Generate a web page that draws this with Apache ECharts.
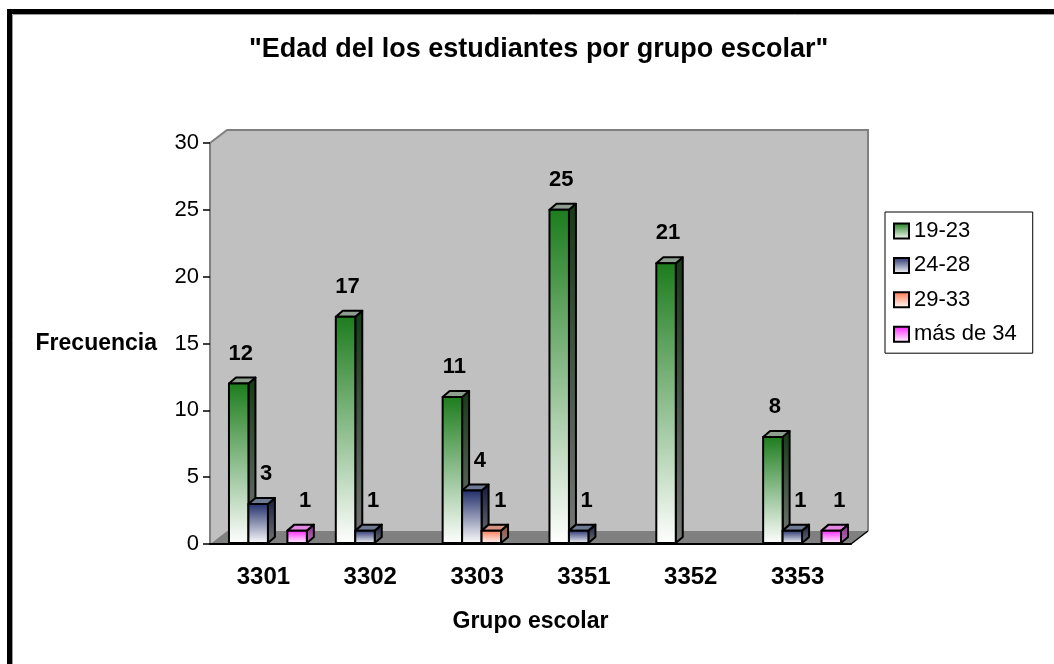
<!DOCTYPE html>
<html>
<head>
<meta charset="utf-8">
<script src="https://cdn.jsdelivr.net/npm/echarts@6/dist/echarts.min.js"></script>
<style>
  html, body { margin: 0; padding: 0; background: #ffffff; }
  #chart { width: 1054px; height: 664px; }
</style>
</head>
<body>
<div id="chart"></div>
<script>
// Chart text and data
const titleText = '"Edad del los estudiantes por grupo escolar"';
const yAxisTitle = 'Frecuencia';
const xAxisTitle = 'Grupo escolar';
const categories = ['3301', '3302', '3303', '3351', '3352', '3353'];
const seriesNames = ['19-23', '24-28', '29-33', 'más de 34'];
const ages19to23 = [12, 17, 11, 25, 21, 8];
const ages24to28 = [3, 1, 4, 1, 0, 1];
const ages29to33 = [0, 0, 1, 0, 0, 0];
const ages34plus = [1, 0, 0, 0, 0, 1];
const yMin = 0, yMax = 30, yStep = 5;

const FONT = '"Liberation Sans", Arial, Helvetica, sans-serif';
const G = echarts.graphic;

// Column look: front face gradient, dark side face, light top face
const palette = [
  { front: '#1c7c1c', side: '#163a16', sideEnd: '#767676', top: '#8f9f8f', dx: 2 },
  { front: '#1f2c68', side: '#131a3c', sideEnd: '#767676', top: '#6e7a94', dx: 8 },
  { front: '#ff7650', side: '#9a4a32', sideEnd: '#8a8a8a', top: '#d49484', dx: 9 },
  { front: '#ff1cff', side: '#8c248c', sideEnd: '#b080b0', top: '#e488e4', dx: 8 }
];
const seriesValues = [ages19to23, ages24to28, ages29to33, ages34plus];

// Depth of each column and of the plot box
const BAR_DX = 7, BAR_DY = 6;
const BOX_DX = 17, BOX_DY = 13;
const LEAD = 19 / 107, SLOT = 19.5 / 107;

function frontGradient(c) {
  return new G.LinearGradient(0, 0, 0, 1, [
    { offset: 0, color: c }, { offset: 1, color: '#ffffff' }
  ]);
}

function barRenderer(si) {
  const p = palette[si];
  return function (params, api) {
    const cat = api.value(0);
    const val = api.value(1);
    if (!val) return null;
    const bw = api.size([1, 0])[0];
    const base = api.coord([cat, 0]);
    const tip = api.coord([cat, val]);
    const w = bw * SLOT;
    const x0 = base[0] - bw / 2 + bw * LEAD + si * w;
    const x1 = x0 + w;
    const yB = base[1] - 1;
    const yT = tip[1];
    const stroke = { stroke: '#000', lineWidth: 2, lineJoin: 'round' };
    return {
      type: 'group',
      children: [
        {
          type: 'polygon',
          shape: { points: [[x1, yT], [x1 + BAR_DX, yT - BAR_DY], [x1 + BAR_DX, yB - BAR_DY], [x1, yB]] },
          style: Object.assign({
            fill: new G.LinearGradient(0, 0, 0, 1, [
              { offset: 0, color: p.side }, { offset: 1, color: p.sideEnd }
            ])
          }, stroke)
        },
        {
          type: 'polygon',
          shape: { points: [[x0, yT], [x0 + BAR_DX, yT - BAR_DY], [x1 + BAR_DX, yT - BAR_DY], [x1, yT]] },
          style: Object.assign({ fill: p.top }, stroke)
        },
        {
          type: 'rect',
          shape: { x: x0, y: yT, width: w, height: yB - yT },
          style: Object.assign({ fill: frontGradient(p.front) }, stroke)
        },
        {
          type: 'text',
          style: {
            text: String(val),
            x: (x0 + x1) / 2 + p.dx,
            y: yT - 30,
            align: 'center',
            verticalAlign: 'middle',
            font: 'bold 22px ' + FONT,
            fill: '#000'
          }
        }
      ]
    };
  };
}

// Walls and floor of the plot box
function boxRenderer(params, api) {
  const bw = api.size([1, 0])[0];
  const first = api.coord([0, yMin]);
  const last = api.coord([categories.length - 1, yMin]);
  const T = api.coord([0, yMax])[1];
  const L = first[0] - bw / 2, R = last[0] + bw / 2, B = first[1];
  return {
    type: 'group',
    children: [
      { type: 'polygon', shape: { points: [[L, B], [L, T], [L + BOX_DX, T - BOX_DY], [L + BOX_DX, B - BOX_DY]] },
        style: { fill: '#c0c0c0' } },
      { type: 'rect', shape: { x: L + BOX_DX, y: T - BOX_DY, width: R - L, height: B - T },
        style: { fill: '#c0c0c0' } },
      { type: 'polygon', shape: { points: [[L, B], [L + BOX_DX, B - BOX_DY], [R + BOX_DX, B - BOX_DY], [R, B]] },
        style: { fill: '#808080' } },
      { type: 'polyline', shape: { points: [[L, T], [L + BOX_DX, T - BOX_DY], [R + BOX_DX, T - BOX_DY], [R + BOX_DX, B - BOX_DY]] },
        style: { fill: null, stroke: '#808080', lineWidth: 2 } },
      { type: 'line', shape: { x1: R + BOX_DX, y1: B - BOX_DY, x2: R, y2: B },
        style: { stroke: '#000', lineWidth: 1.5 } }
    ]
  };
}

const chart = echarts.init(document.getElementById('chart'), null, { renderer: 'canvas' });

const series = [{
  type: 'custom',
  name: 'box',
  silent: true,
  z: 1,
  data: [[0, 0]],
  encode: { x: 0, y: 1 },
  renderItem: boxRenderer
}];
seriesValues.forEach(function (vals, si) {
  series.push({
    type: 'custom',
    name: seriesNames[si],
    z: 2 + si,
    itemStyle: { color: frontGradient(palette[si].front), borderColor: '#000', borderWidth: 2 },
    data: vals.map(function (v, i) { return [i, v]; }),
    encode: { x: 0, y: 1 },
    renderItem: barRenderer(si)
  });
});

chart.setOption({
  animation: false,
  backgroundColor: '#ffffff',
  textStyle: { fontFamily: FONT },
  title: {
    text: titleText,
    left: 249,
    top: 36,
    padding: 0,
    textStyle: { fontFamily: FONT, fontSize: 27, fontWeight: 'bold', color: '#000' }
  },
  legend: {
    orient: 'vertical',
    left: 885,
    top: 212,
    padding: [8, 16, 8, 8],
    backgroundColor: '#ffffff',
    borderColor: '#000',
    borderWidth: 1,
    itemWidth: 15,
    itemHeight: 15,
    itemGap: 12.4,
    icon: 'rect',
    selectedMode: false,
    textStyle: { fontFamily: FONT, fontSize: 22, lineHeight: 22, color: '#000' },
    data: seriesNames.map(function (n, si) {
      return { name: n, itemStyle: { color: frontGradient(palette[si].front), borderColor: '#000', borderWidth: 2 } };
    })
  },
  grid: { left: 210, right: 203, top: 143, bottom: 120, containLabel: false },
  xAxis: {
    type: 'category',
    data: categories,
    z: 10,
    name: xAxisTitle,
    nameLocation: 'middle',
    nameGap: 66,
    nameTextStyle: { fontFamily: FONT, fontSize: 23, fontWeight: 'bold', color: '#000' },
    axisLine: { lineStyle: { color: '#000', width: 2 } },
    axisTick: { length: 7, lineStyle: { color: '#000', width: 1.5 } },
    axisLabel: { margin: 21, fontFamily: FONT, fontSize: 24, fontWeight: 'bold', color: '#000' }
  },
  yAxis: {
    type: 'value',
    min: yMin,
    max: yMax,
    interval: yStep,
    z: 10,
    name: yAxisTitle,
    nameLocation: 'middle',
    nameRotate: 0,
    nameGap: 53,
    nameTextStyle: { fontFamily: FONT, fontSize: 23, fontWeight: 'bold', color: '#000', align: 'right', verticalAlign: 'middle' },
    axisLine: { show: true, lineStyle: { color: '#808080', width: 2 } },
    axisTick: { show: true, length: 7, lineStyle: { color: '#000', width: 1.5 } },
    axisLabel: { margin: 11, fontFamily: FONT, fontSize: 22, color: '#000' },
    splitLine: { show: false }
  },
  graphic: [
    { type: 'rect', silent: true, z: 100,
      shape: { x: 9.5, y: 11.5, width: 1100, height: 700 },
      style: { fill: null, stroke: '#000', lineWidth: 5 } },
    { type: 'polyline', silent: true, z: 100,
      shape: { points: [[12.5, 700], [12.5, 14.5], [1060, 14.5]] },
      style: { fill: null, stroke: '#9a9a9a', lineWidth: 1 } }
  ],
  series: series
});
</script>
</body>
</html>
